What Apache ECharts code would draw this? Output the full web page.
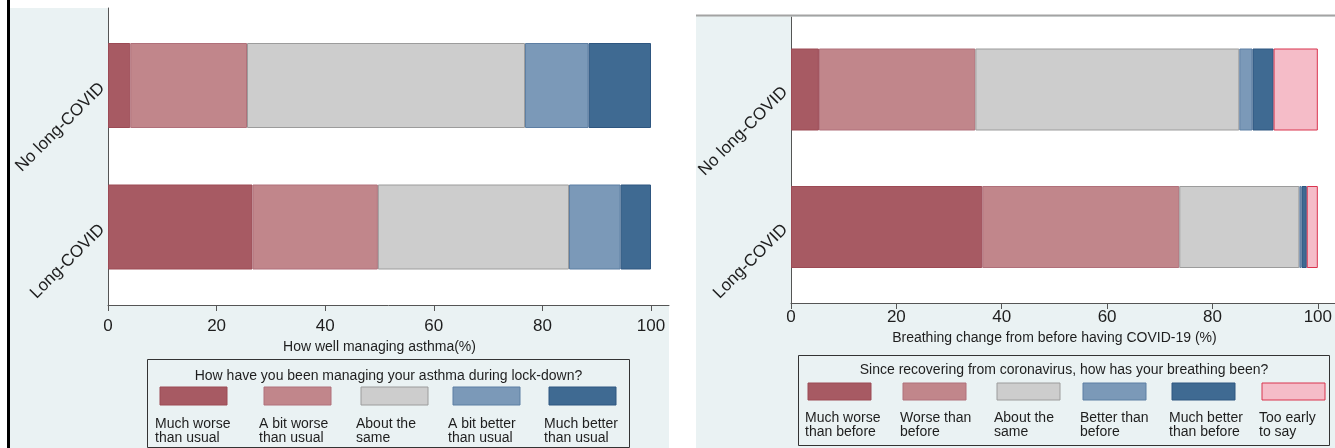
<!DOCTYPE html>
<html>
<head>
<meta charset="utf-8">
<script src="https://cdn.jsdelivr.net/npm/echarts@6/dist/echarts.min.js"></script>
<style>
  html, body { margin: 0; padding: 0; background: #ffffff; }
  #chart { width: 1335px; height: 448px; }
</style>
</head>
<body>
<div id="chart"></div>
<script>
// Survey groups (category axis runs bottom to top)
const groups = ['Long-COVID', 'No long-COVID'];

// Axis ticks shared by both panels
const tickValues = [0, 20, 40, 60, 80, 100];

// Left panel: asthma management during lock-down (%), values ordered as in `groups`
const asthmaTitle = 'How have you been managing your asthma during lock-down?';
const asthmaAxisName = 'How well managing asthma(%)';
const asthmaLevels = ['Much worse\nthan usual', 'A bit worse\nthan usual', 'About the\nsame', 'A bit better\nthan usual', 'Much better\nthan usual'];
const asthmaMuchWorse = [26.6, 4.1];
const asthmaBitWorse = [23.1, 21.5];
const asthmaSame = [35.2, 51.2];
const asthmaBitBetter = [9.5, 11.7];
const asthmaMuchBetter = [5.6, 11.5];

// Right panel: breathing since recovering from coronavirus (%)
const breathTitle = 'Since recovering from coronavirus, how has your breathing been?';
const breathAxisName = 'Breathing change from before having COVID-19 (%)';
const breathLevels = ['Much worse\nthan before', 'Worse than\nbefore', 'About the\nsame', 'Better than\nbefore', 'Much better\nthan before', 'Too early\nto say'];
const breathMuchWorse = [36.3, 5.3];
const breathWorse = [37.4, 29.7];
const breathSame = [22.8, 50.1];
const breathBetter = [0.4, 2.5];
const breathMuchBetter = [1.0, 4.0];
const breathTooEarly = [2.1, 8.4];

const asthmaValues = [asthmaMuchWorse, asthmaBitWorse, asthmaSame, asthmaBitBetter, asthmaMuchBetter];
const breathValues = [breathMuchWorse, breathWorse, breathSame, breathBetter, breathMuchBetter, breathTooEarly];

// Fill / outline per response level
const fills = ['#a75a63', '#c1868b', '#cdcdcd', '#7b99b8', '#3f6a92', '#f5bcc8'];
const edges = ['#9c4a55', '#b0707a', '#9c9c9c', '#5d7ea3', '#2e5680', '#d9344f'];

const FONT = '"Liberation Sans", Arial, Helvetica, sans-serif';
const TEXT = '#1e1e1e';
const PANEL_BG = '#eaf2f3';

const chart = echarts.init(document.getElementById('chart'), null, { renderer: 'canvas' });

// Panel geometry
const L = { barLeft: 108, barW: 543, barTop: 14.75, barH: 283, frameTop: 8, frameRight: 669, axisY: 305, barWidth: 85 };
const R = { barLeft: 791, barW: 529.5, barTop: 20.75, barH: 275, frameTop: 17, frameRight: 1335, axisY: 303, barWidth: 82 };

function barAxes(p, gi, axisName, nameGap, labelMargin) {
  return {
    x: {
      type: 'value', gridIndex: gi, min: tickValues[0], max: tickValues[tickValues.length - 1],
      interval: tickValues[1] - tickValues[0],
      offset: p.axisY - (p.barTop + p.barH),
      axisLine: { show: false },
      axisTick: { show: true, length: 6, lineStyle: { color: '#555', width: 1 } },
      axisLabel: { show: true, fontSize: 17, fontFamily: FONT, color: TEXT, margin: labelMargin },
      splitLine: { show: false },
      name: axisName, nameLocation: 'middle', nameGap: nameGap,
      nameTextStyle: { fontSize: 14, fontFamily: FONT, color: TEXT }
    },
    y: {
      type: 'category', gridIndex: gi, data: groups,
      axisLine: { show: false }, axisTick: { show: false },
      axisLabel: { rotate: 45, fontSize: 17, fontFamily: FONT, color: TEXT, margin: 6 }
    }
  };
}

function frameAxes(gi) {
  const common = {
    type: 'value', gridIndex: gi, min: 0, max: 1,
    axisLine: { show: true, lineStyle: { color: '#555', width: 1 } },
    axisTick: { show: false }, axisLabel: { show: false }, splitLine: { show: false }
  };
  return { x: Object.assign({}, common), y: Object.assign({}, common) };
}

const la = barAxes(L, 0, asthmaAxisName, 29, 13);
const lf = frameAxes(1);
const ra = barAxes(R, 2, breathAxisName, 23, 6);
const rf = frameAxes(3);

const series = [];
asthmaValues.forEach((vals, i) => {
  series.push({
    type: 'bar', name: asthmaLevels[i], stack: 'asthma', xAxisIndex: 0, yAxisIndex: 0,
    barWidth: L.barWidth, data: vals,
    itemStyle: { color: fills[i], borderColor: edges[i], borderWidth: 1 },
    emphasis: { disabled: true }
  });
});
breathValues.forEach((vals, i) => {
  series.push({
    type: 'bar', name: breathLevels[i], stack: 'breath', xAxisIndex: 2, yAxisIndex: 2,
    barWidth: R.barWidth, data: vals,
    itemStyle: { color: fills[i], borderColor: edges[i], borderWidth: 1 },
    emphasis: { disabled: true }
  });
});

// Legend blocks: framed box, title, swatch row, two-line captions
function legendBlock(box, title, titleY, names, textXs, swatchDX, swatchW, swatchY, swatchH, captionY) {
  const els = [];
  els.push({ type: 'rect', shape: { x: box.x, y: box.y, width: box.w, height: box.h },
    style: { fill: 'none', stroke: '#333', lineWidth: 1 }, z: 10 });
  els.push({ type: 'text', x: box.x + box.w / 2, y: titleY, z: 10,
    style: { text: title, fontSize: 14, fontFamily: FONT, fill: TEXT, align: 'center', verticalAlign: 'middle' } });
  names.forEach((n, i) => {
    els.push({ type: 'rect', z: 10,
      shape: { x: textXs[i] + swatchDX, y: swatchY, width: swatchW, height: swatchH },
      style: { fill: fills[i], stroke: edges[i], lineWidth: 1 } });
    els.push({ type: 'text', x: textXs[i], y: captionY, z: 10,
      style: { text: n, fontSize: 14, fontFamily: FONT, fill: TEXT, align: 'left', verticalAlign: 'top', lineHeight: 14 } });
  });
  return els;
}

const graphic = [
  // white strips around the two panels
  { type: 'rect', shape: { x: 0, y: 0, width: 1335, height: 8 }, style: { fill: '#ffffff' }, z: -5 },
  { type: 'rect', shape: { x: 669, y: 0, width: 27, height: 448 }, style: { fill: '#ffffff' }, z: -5 },
  { type: 'rect', shape: { x: 696, y: 0, width: 639, height: 15 }, style: { fill: '#ffffff' }, z: -5 },
  { type: 'rect', shape: { x: 0, y: 0, width: 7, height: 448 }, style: { fill: '#ffffff' }, z: -5 },
  // left panel edge and right panel top rule
  { type: 'line', shape: { x1: 8.5, y1: 0, x2: 8.5, y2: 448 }, style: { stroke: '#000', lineWidth: 3 }, z: 20 },
  { type: 'line', shape: { x1: 696, y1: 15.5, x2: 1335, y2: 15.5 }, style: { stroke: '#a3a3a3', lineWidth: 2 }, z: 20 }
].concat(
  legendBlock({ x: 147.5, y: 359.5, w: 482, h: 88 }, asthmaTitle, 376, asthmaLevels,
    [155, 259, 356, 448, 544], 5, 67, 387, 18, 417),
  legendBlock({ x: 798.5, y: 355.5, w: 531, h: 90 }, breathTitle, 370, breathLevels,
    [805, 900, 994, 1080, 1169, 1259], 3, 63, 383, 17, 411)
);

chart.setOption({
  backgroundColor: PANEL_BG,
  animation: false,
  grid: [
    { left: L.barLeft, top: L.barTop, width: L.barW, height: L.barH },
    { left: L.barLeft, top: L.frameTop, width: L.frameRight - L.barLeft, height: L.axisY - L.frameTop,
      show: true, backgroundColor: '#ffffff', borderWidth: 0, z: -1 },
    { left: R.barLeft, top: R.barTop, width: R.barW, height: R.barH },
    { left: R.barLeft, top: R.frameTop, width: R.frameRight - R.barLeft, height: R.axisY - R.frameTop,
      show: true, backgroundColor: '#ffffff', borderWidth: 0, z: -1 }
  ],
  xAxis: [la.x, lf.x, ra.x, rf.x],
  yAxis: [la.y, lf.y, ra.y, rf.y],
  graphic: graphic,
  series: series
});
</script>
</body>
</html>
